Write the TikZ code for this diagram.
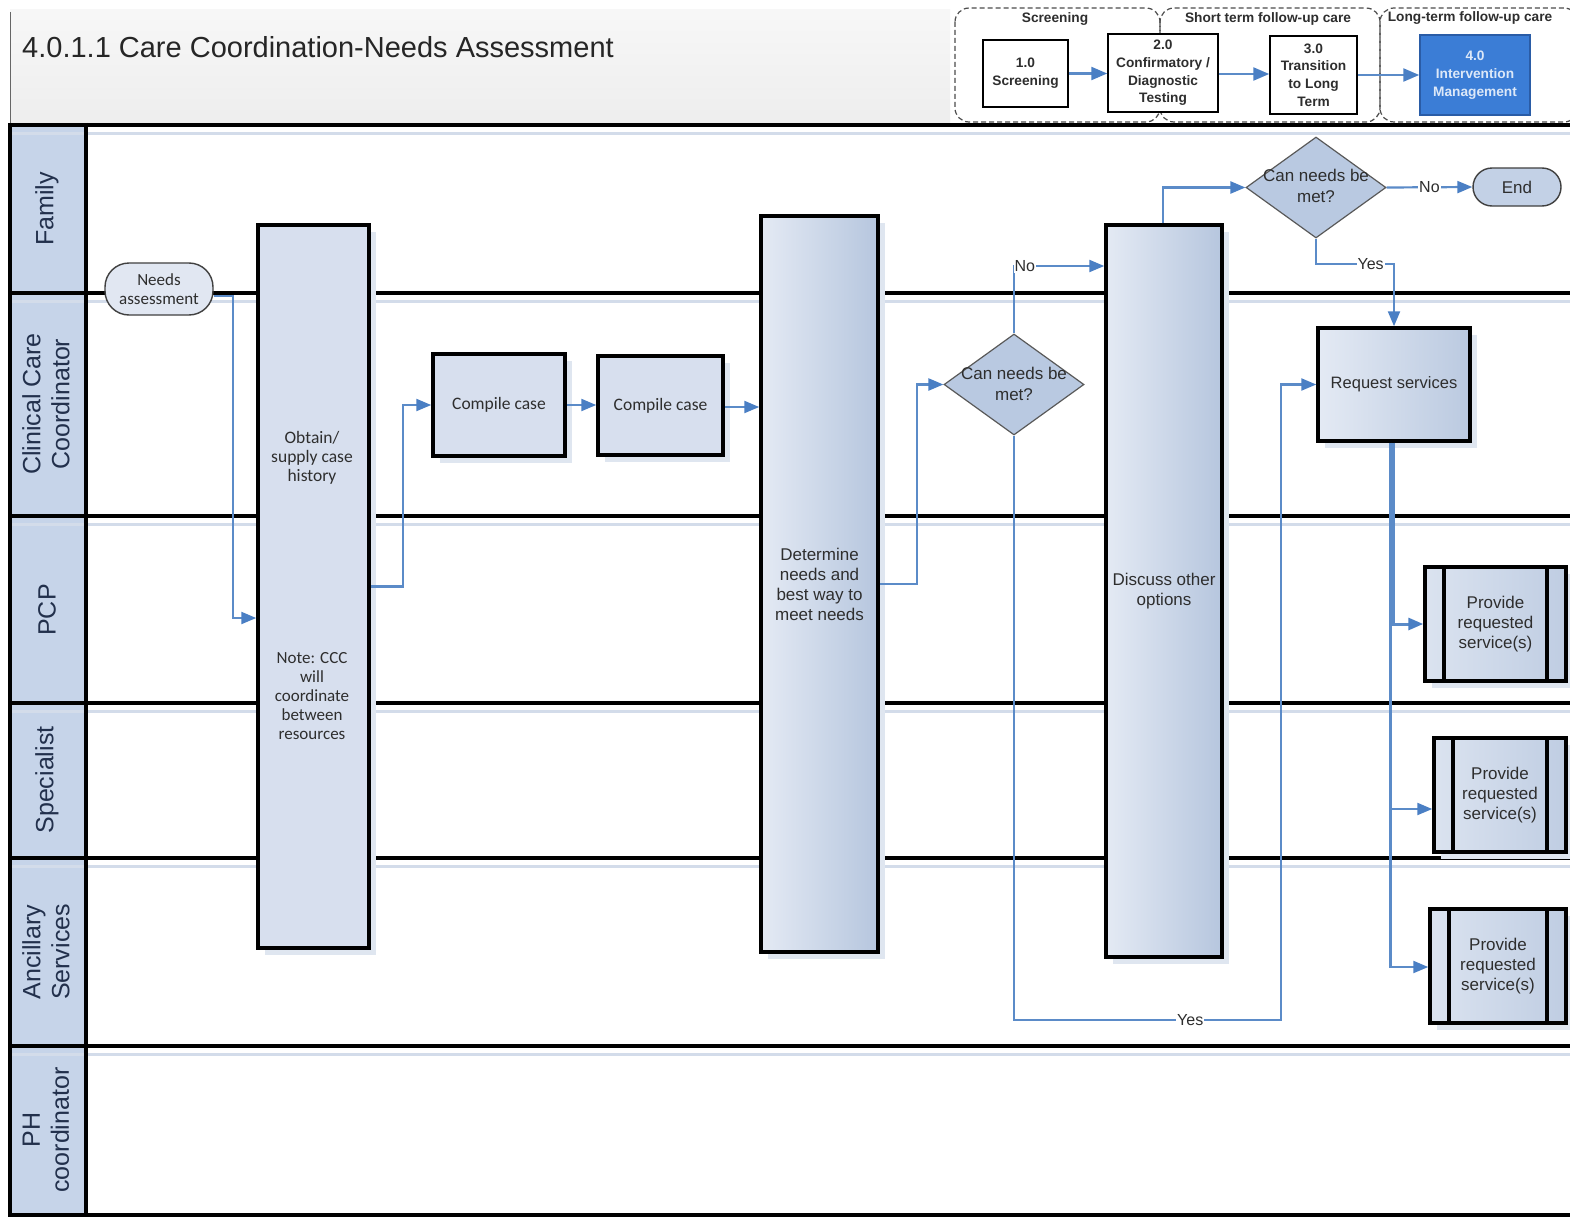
\documentclass[tikz,border=0pt]{standalone}
\usepackage{fontspec}
\setmainfont{Liberation Sans}
\newfontfamily\carlito{Carlito}
\usetikzlibrary{arrows.meta,shapes.geometric,shadows,calc}

\definecolor{lanefill}{HTML}{C6D4E9}
\definecolor{lanetxt}{HTML}{22304C}
\definecolor{laneshade}{HTML}{D3DCEA}
\definecolor{boxfill}{HTML}{D7DFEE}
\definecolor{gradlo}{HTML}{E4EAF4}
\definecolor{gradhi}{HTML}{B6C6DE}
\definecolor{diafill}{HTML}{B9C9E1}
\definecolor{shadowc}{HTML}{DFE6F0}
\definecolor{conn}{HTML}{5B8BC8}
\definecolor{tipc}{HTML}{4A7FC4}
\definecolor{txtc}{HTML}{2E2E2E}
\definecolor{phaseblue}{HTML}{3B7DD6}
\definecolor{phaseedge}{HTML}{2A5CA6}
\definecolor{phasetxt}{HTML}{DCE8F8}

\newcommand\setfs[2]{\fontsize{#1pt}{#2pt}\selectfont}

\tikzset{
  lane/.style={line width=4pt, black},
  laneshadow/.style={line width=3pt, laneshade},
  lanelabel/.style={rotate=90, align=center, text=lanetxt, font=\setfs{25}{29}},
  box/.style={draw=black, line width=3.5pt, fill=boxfill, inner sep=0pt,
    align=center, text=txtc,
    drop shadow={shadow xshift=7pt, shadow yshift=-7pt, fill=shadowc, opacity=1}},
  tallbox/.style={box, left color=gradlo, right color=gradhi, font=\setfs{17}{20}},
  calibox/.style={box, font=\carlito\setfs{17.5}{19}},
  proc/.style={box, left color=gradlo!80!gradhi, right color=gradhi!80!gradlo,
    font=\setfs{17}{20},
    path picture={
      \draw[line width=3.5pt] ([xshift=19pt]path picture bounding box.north west)
        -- ([xshift=19pt]path picture bounding box.south west);
      \draw[line width=3.5pt] ([xshift=-19pt]path picture bounding box.north east)
        -- ([xshift=-19pt]path picture bounding box.south east);}},
  dia/.style={diamond, draw=black!65, line width=1.2pt, fill=diafill, inner sep=0pt},
  diatxt/.style={align=center, text=txtc, font=\setfs{17}{21}, inner sep=0pt},
  term/.style={draw=black!75, line width=1.4pt, rounded corners=19pt, inner sep=0pt, align=center, text=txtc},
  connector/.style={draw=conn, line width=2.2pt, -{Triangle[length=15pt,width=12pt,fill=tipc,color=tipc]}},
  onlabel/.style={fill=white, inner sep=1pt, text=txtc, font=\setfs{16}{18}},
  phasebox/.style={draw=black, line width=1.5pt, fill=white, inner sep=0pt, align=center,
    text=txtc, font=\bfseries\setfs{13.7}{17.7}},
  phasegroup/.style={draw=black!70, line width=1.2pt, dash pattern=on 5pt off 3pt, rounded corners=14pt},
  phaselabel/.style={text=txtc, font=\bfseries\setfs{13.7}{16}, inner sep=0pt},
  phasearrow/.style={draw=conn, line width=2.4pt, -{Triangle[length=16pt,width=13pt,fill=tipc,color=tipc]}}
}

\begin{document}
\begin{tikzpicture}[x=1pt, y=-1pt]
\useasboundingbox (0,0) rectangle (1570,1220);
\fill[white] (0,0) rectangle (1570,1220);

% heading band
\shade[top color=white!97!black, bottom color=white!93!black] (10,10) rectangle (950,125);
\draw[black!60, line width=1pt] (10,12) -- (10,125);
\node[anchor=west, text=black!85, font=\setfs{29}{32}, inner sep=0pt] (title) at (22,47)
  {4.0.1.1 Care Coordination-Needs Assessment};

% phase overview
\draw[phasegroup] (955,8) rectangle (1160,122);
\draw[phasegroup] (1160,8) rectangle (1380,122);
\draw[phasegroup] (1380,8) rectangle (1578,122);
\node[phaselabel] (gscr) at (1055,19) {Screening};
\node[phaselabel] (gshort) at (1268,19) {Short term follow-up care};
\node[phaselabel] (glong) at (1470,18) {Long-term follow-up care};

\node[phasebox, minimum width=85pt, minimum height=67pt] (p1) at (1025.5,73.5) {1.0\\Screening};
\node[phasebox, minimum width=110pt, minimum height=78pt] (p2) at (1163,73) {2.0\\Confirmatory /\\Diagnostic\\Testing};
\node[phasebox, minimum width=87pt, minimum height=78pt] (p3) at (1313.5,75) {3.0\\Transition\\to Long\\Term};
\node[phasebox, fill=phaseblue, draw=phaseedge, text=phasetxt, minimum width=110pt, minimum height=80pt]
  (p4) at (1475,75) {4.0\\Intervention\\Management};

\draw[phasearrow] (p1.east) -- (p1.east -| p2.west);
\draw[phasearrow] ([yshift=-1pt]p2.east) -- ([yshift=-1pt]p2.east -| p3.west);
\draw[phasearrow] (p3.east) -- (p3.east -| p4.west);

% swimlanes
\fill[lanefill] (10,125) rectangle (86,1215);
\foreach \yy in {125,293,516,703,858,1046}
  \draw[laneshadow] (10,\yy+8) -- (1570,\yy+8);
\foreach \yy in {125,293,516,703,858,1046,1215}
  \draw[lane] (10,\yy) -- (1570,\yy);
\draw[lane] (10,123) -- (10,1217);
\draw[lane] (86,123) -- (86,1217);

\node[lanelabel] (lfam) at (47,209) {Family};
\node[lanelabel] (lccc) at (46,404) {Clinical Care\\Coordinator};
\node[lanelabel] (lpcp) at (47,610) {PCP};
\node[lanelabel] (lspec) at (47,780) {Specialist};
\node[lanelabel] (lanc) at (46,952) {Ancillary\\Services};
\node[lanelabel] (lph) at (46,1130) {PH\\coordinator};

% process steps
\node[calibox, minimum width=111pt, minimum height=723pt] (obtain) at (313.5,586.5) {};
\node[text=txtc, align=center, font=\carlito\setfs{17.5}{19}] (obtaintxt) at (312,458) {Obtain/\\supply case\\history};
\node[text=txtc, align=center, font=\carlito\setfs{17}{19}] (notetxt) at (312,696) {Note: CCC\\will\\coordinate\\between\\resources};

\node[term, fill=boxfill!75!white, rounded corners=24pt, minimum width=108pt, minimum height=52pt,
  font=\carlito\setfs{17}{19}] (needs) at (159,289) {Needs\\assessment};

\node[calibox, minimum width=132pt, minimum height=102pt] (comp1) at (499,405) {Compile case};
\node[calibox, minimum width=125pt, minimum height=99pt] (comp2) at (660.5,405.5) {Compile case};

\node[tallbox, minimum width=117pt, minimum height=736pt] (det) at (819.5,584)
  {Determine\\needs and\\best way to\\meet needs};

\node[dia, minimum width=140pt, minimum height=101pt] (d1) at (1014,384.5) {};
\node[diatxt] (d1t) at (1014,384) {Can needs be\\met?};

\node[tallbox, minimum width=116pt, minimum height=732pt] (disc) at (1164,591)
  {Discuss other\\options};

\node[dia, minimum width=140pt, minimum height=101pt] (d2) at (1316,187.5) {};
\node[diatxt] (d2t) at (1316,186) {Can needs be\\met?};

\node[term, fill=diafill!85!white, minimum width=88pt, minimum height=38pt,
  font=\setfs{17}{20}] (endnode) at (1517,187) {End};

\node[box, left color=gradlo, right color=gradhi!90!gradlo, minimum width=152pt, minimum height=113pt,
  font=\setfs{16.5}{20}] (req) at (1394,384.5) {Request services};

\node[proc, minimum width=141pt, minimum height=114pt] (prov1) at (1495.5,624) {Provide\\requested\\service(s)};
\node[proc, minimum width=132pt, minimum height=114pt] (prov2) at (1500,795) {Provide\\requested\\service(s)};
\node[proc, minimum width=136pt, minimum height=114pt] (prov3) at (1498,966) {Provide\\requested\\service(s)};

% connectors
\draw[connector] ([yshift=-7pt]needs.east) -- ++(19,0) |- ([yshift=-31.5pt]obtain.west);
\draw[connector] (obtain.east) -- ++(32,0) |- (comp1.west);
\draw[connector] (comp1.east) -- (comp1.east -| comp2.west);
\draw[connector] ([yshift=-1.5pt]comp2.east) -- ([yshift=-1.5pt]comp2.east -| det.west);
\draw[connector] (det.east) -- ++(37,0) |- (d1.west);
\draw[connector] (d1.north) |- node[onlabel, pos=0.56] (lno1) {No} ([yshift=325pt]disc.west);
\coordinate (yesturn) at (1281,1020);
\draw[connector] (d1.south) |- node[onlabel, pos=0.83] (lyes1) {Yes} (yesturn) |- (req.west);
\draw[connector] ([xshift=-1pt]disc.north) |- (d2.west);
\draw[connector] (d2.east) -- node[onlabel] (lno2) {No} (endnode.west);
\draw[connector] (d2.south) |- node[onlabel, pos=0.85] (lyes2) {Yes} ([yshift=62pt]req.north) -- (req.north);
\draw[connector, line width=3pt] ([xshift=-1pt]req.south) |- (prov1.west);
\draw[connector] ([xshift=-3.5pt]req.south) |- ([yshift=-14pt]prov2.west);
\draw[connector] ([xshift=-3.5pt]req.south) |- ([yshift=-1pt]prov3.west);
\end{tikzpicture}
\end{document}
